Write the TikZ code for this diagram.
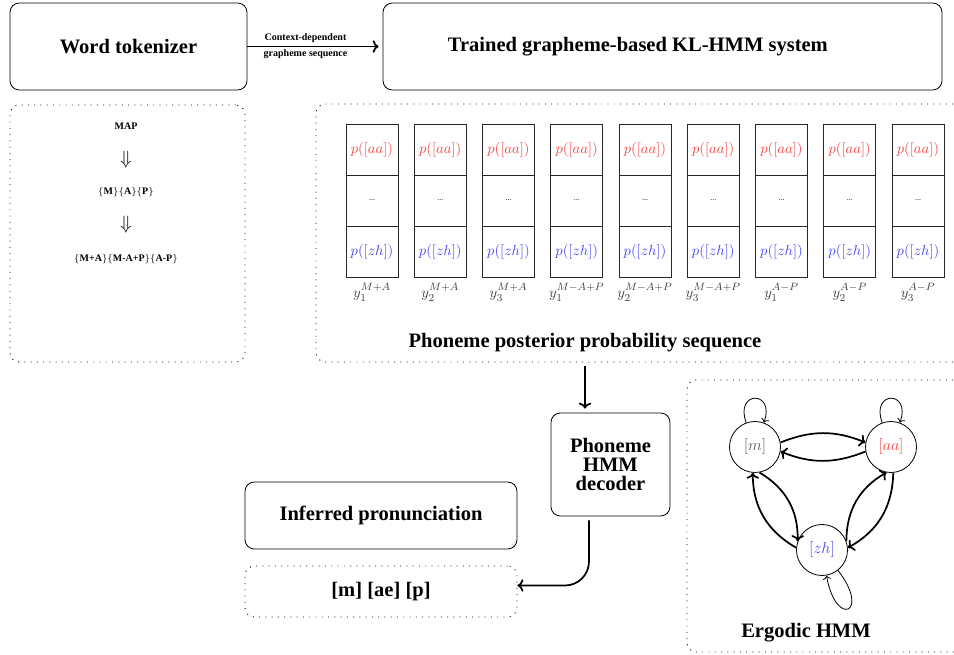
\documentclass[tikz,border=0pt]{standalone}
\usepackage{fontspec}
\setmainfont{Liberation Serif}
\usetikzlibrary{arrows.meta,positioning}

\definecolor{aared}{RGB}{245,70,70}
\definecolor{zhblue}{RGB}{70,70,245}
\definecolor{mgray}{RGB}{90,90,90}
\newcommand{\grp}[1]{$\{$#1$\}$}
\def\px{0.75pt}

\begin{document}
\begin{tikzpicture}[
  x=0.75pt,y=-0.75pt,
  >=To,
  box/.style={draw,rounded corners=7pt,line width=0.6pt,align=center,
    font=\bfseries\fontsize{15.4}{14}\selectfont},
  dotbox/.style={draw,rounded corners=7pt,line width=0.7pt,
    dash pattern=on 0.7pt off 4pt},
  title/.style={font=\bfseries\fontsize{15.4}{14}\selectfont},
  note/.style={font=\bfseries\fontsize{7.5}{9}\selectfont,inner sep=1pt},
  darrow/.style={font=\fontsize{15}{16}\selectfont,inner sep=0pt},
  cell/.style={draw=black!85,line width=0.7pt,minimum width=52*\px,
    minimum height=51*\px,inner sep=0pt,outer sep=0pt,
    font=\fontsize{11}{13}\selectfont},
  state/.style={circle,draw,line width=0.6pt,minimum size=51*\px,inner sep=0pt,
    font=\fontsize{12}{14}\selectfont},
  flow/.style={->,line width=1.3pt},
  selfloop/.style={->,line width=0.6pt}
]
\useasboundingbox (0,0) rectangle (954,655);

% top row
\node[box,minimum width=237*\px,minimum height=87*\px] (tok) at (128.5,46.5) {Word tokenizer};
\node[box,minimum width=559*\px,minimum height=87*\px] (kl) at (662.5,46.5)
  {Trained grapheme-based KL-HMM system\hspace*{37pt}};
\draw[flow,shorten >=3pt] (tok) -- node[pos=0.43,note,above=1pt]{Context-dependent}
  node[pos=0.43,note,below=1pt]{grapheme sequence} (kl);

% grapheme context box
\node[dotbox,minimum width=235*\px,minimum height=257*\px] (mapbox) at (127.5,233.5) {};
\node[note] (map) at (126,126) {MAP};
\node[darrow] (dn1) at (126,160) {$\Downarrow$};
\node[note] (split) at (126,192) {\grp{M}\grp{A}\grp{P}};
\node[darrow] (dn2) at (126,225) {$\Downarrow$};
\node[note] (ctx) at (126,259) {\grp{M+A}\grp{M-A+P}\grp{A-P}};

% posterior sequence
\node[dotbox,minimum width=659*\px,minimum height=258*\px] (seqbox) at (645.5,233) {};
\foreach \i/\lab in {1/y_1^{M+A},2/y_2^{M+A},3/y_3^{M+A},
    4/y_1^{M-A+P},5/y_2^{M-A+P},6/y_3^{M-A+P},
    7/y_1^{A-P},8/y_2^{A-P},9/y_3^{A-P}}{
  \node[cell,text=aared] (aa\i) at ({372+68.25*(\i-1)},149.5) {$p([aa])$};
  \node[cell,below=0pt of aa\i,font=\fontsize{6}{7}\selectfont] (dots\i) {...};
  \node[cell,below=0pt of dots\i,text=zhblue] (zh\i) {$p([zh])$};
  \node[below=1.5pt of zh\i,text=black!75,font=\fontsize{11}{13}\selectfont] (y\i) {$\lab$};
}
\node[title] (seqlabel) at (585,343) {Phoneme posterior probability sequence};

% decoding
\node[box,minimum width=119*\px,minimum height=103*\px] (dec) at (610.5,464.5)
  {Phoneme\\HMM\\decoder};
\draw[flow,shorten >=3pt] (seqlabel |- seqbox.south) ++(0,4) -- (seqlabel |- dec.north);

\node[box,minimum width=272*\px,minimum height=67*\px] (inf) at (381,515.5) {Inferred pronunciation};
\node[box,dotbox,minimum width=272*\px,minimum height=51*\px] (pron) at (381,591.5) {[m] [ae] [p]};
\draw[flow,rounded corners=18pt,shorten <=3pt] ([xshift=-21.5*\px]dec.south) |- ([yshift=6*\px]pron.east);

% ergodic HMM
\node[dotbox,minimum width=288*\px,minimum height=272*\px] (hmmbox) at (831,516) {};
\node[state,text=mgray] (m) at (755,447) {$[m]$};
\node[state,text=aared] (aa) at (891,447) {$[aa]$};
\node[state,text=zhblue] (zh) at (822,550) {$[zh]$};
\draw[flow] (m.10) to[bend left=22] (aa.170);
\draw[flow] (aa.-170) to[bend left=22] (m.-10);
\draw[flow] (m.-80) to[bend left=30] (zh.160);
\draw[flow] (zh.175) to[bend left=30] (m.-95);
\draw[flow] (zh.20) to[bend left=30] (aa.-100);
\draw[flow] (aa.-85) to[bend left=30] (zh.5);
\draw[selfloop] (m) to[out=110,in=70,looseness=5] (m);
\draw[selfloop] (aa) to[out=110,in=70,looseness=5] (aa);
\draw[selfloop] (zh) to[out=-52,in=-80,looseness=11] (zh);
\node[title] (hmmlabel) at (806,633) {Ergodic HMM};
\end{tikzpicture}
\end{document}
